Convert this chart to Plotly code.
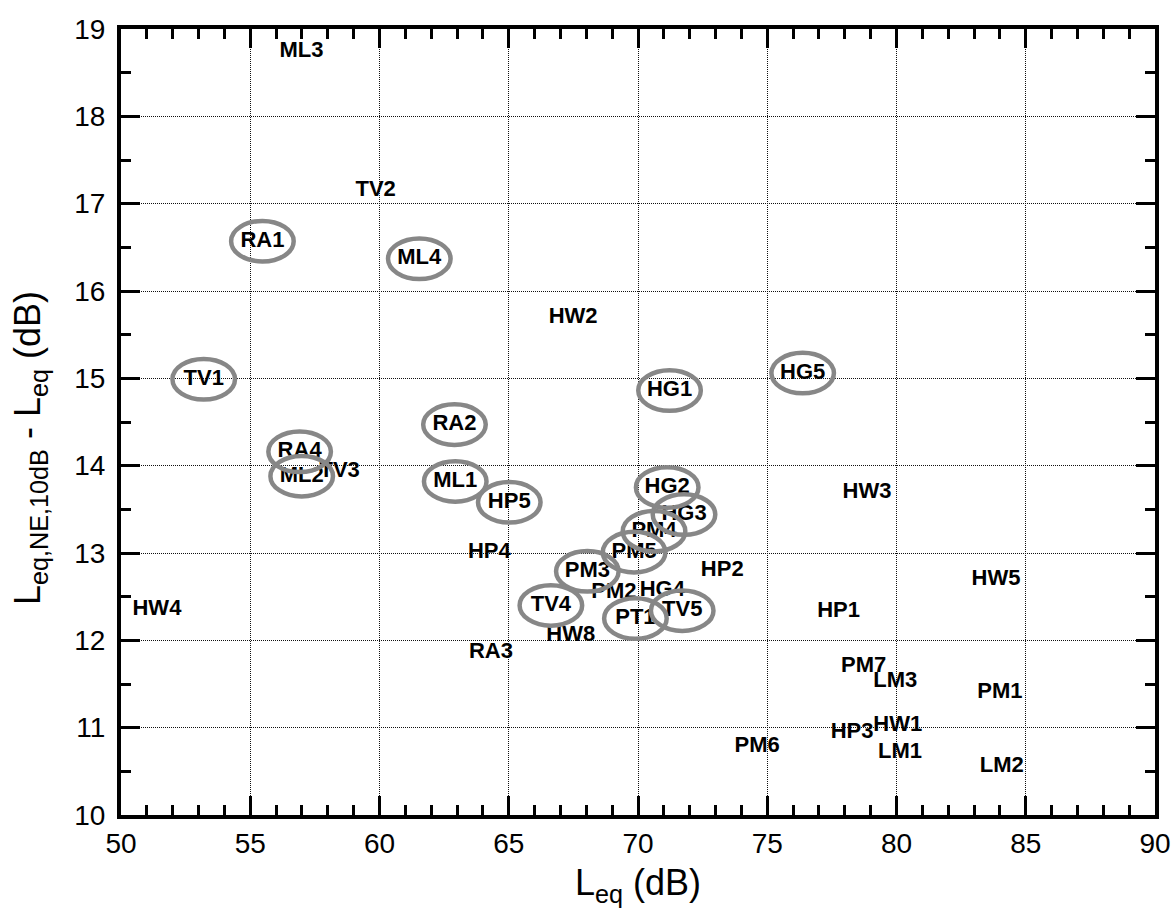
import plotly.graph_objects as go

labels = ["ML3", "TV2", "RA1", "ML4", "HW2", "TV1", "HG5", "RA2", "HG1",
          "RA4", "ML2", "TV3", "ML1", "HP5", "HG2", "HG3", "HW3", "PM4",
          "PM5", "HP4", "PM3", "HP2", "HW5", "PM2", "HG4", "TV4", "HW4",
          "TV5", "PT1", "HP1", "HW8", "RA3", "PM7", "LM3", "PM1", "HW1",
          "HP3", "PM6", "LM1", "LM2"]
leq = [56.98, 59.85, 55.47, 61.54, 67.49, 53.20, 76.37, 62.90, 71.22,
       56.91, 56.99, 58.46, 62.93, 65.02, 71.13, 71.78, 78.86, 70.62,
       69.85, 64.25, 68.04, 73.26, 83.85, 69.07, 70.94, 66.63, 51.39,
       71.71, 69.90, 77.76, 67.40, 64.31, 78.73, 79.95, 84.00, 80.05,
       78.28, 74.61, 80.14, 84.07]
diff = [18.74, 17.15, 16.57, 16.37, 15.70, 14.99, 15.06, 14.47, 14.86,
        14.16, 13.88, 13.93, 13.82, 13.58, 13.75, 13.44, 13.69, 13.25,
        13.01, 13.01, 12.79, 12.80, 12.70, 12.55, 12.57, 12.40, 12.35,
        12.34, 12.25, 12.33, 12.06, 11.86, 11.70, 11.53, 11.40, 11.02,
        10.94, 10.79, 10.72, 10.55]
circled = ["RA1", "ML4", "TV1", "HG5", "RA2", "HG1", "RA4", "ML2", "ML1",
           "HP5", "HG2", "HG3", "PM4", "PM5", "PM3", "TV4", "PT1", "TV5"]

x_ticks = [50, 55, 60, 65, 70, 75, 80, 85, 90]
y_ticks = [10, 11, 12, 13, 14, 15, 16, 17, 18, 19]

ELL_RX = 1.21   # half width of ring (x units)
ELL_RY = 0.232  # half height of ring (y units)

fig = go.Figure()
fig.add_trace(go.Scatter(
    x=leq, y=diff, text=labels, mode="text",
    textfont=dict(family="Arial", size=22, color="black", weight="bold"),
    textposition="middle center", hoverinfo="text", showlegend=False,
))

shapes = []
for name, xv, yv in zip(labels, leq, diff):
    if name in circled:
        shapes.append(dict(
            type="circle", xref="x", yref="y",
            x0=xv - ELL_RX, x1=xv + ELL_RX, y0=yv - ELL_RY, y1=yv + ELL_RY,
            line=dict(color="#878787", width=4.5), layer="above",
        ))

axis_common = dict(
    showline=True, linecolor="black", linewidth=4, mirror="ticks",
    ticks="inside", tickcolor="black", tickwidth=3, ticklen=19,
    showgrid=True, gridcolor="#111111", gridwidth=1, griddash="1px,1px",
    zeroline=False, automargin=False,
    tickfont=dict(family="Arial", size=28, color="black"),
)

fig.update_xaxes(
    range=[50, 90], tickvals=x_ticks,
    minor=dict(ticks="inside", dtick=1, ticklen=10, tickwidth=3, tickcolor="black", showgrid=False),
    ticklabelstandoff=0,
    **axis_common,
)
fig.update_yaxes(
    range=[10, 19], tickvals=y_ticks,
    minor=dict(ticks="inside", dtick=0.5, ticklen=10, tickwidth=3, tickcolor="black", showgrid=False),
    ticklabelstandoff=6,
    **axis_common,
)

fig.update_layout(
    width=1174, height=909,
    margin=dict(l=121, r=19, t=29, b=94),
    plot_bgcolor="white", paper_bgcolor="white",
    shapes=shapes,
    annotations=[
        dict(text="L<sub>eq</sub> (dB)", xref="paper", yref="paper",
             x=0.5, y=0, xanchor="center", yanchor="middle", yshift=-70,
             showarrow=False, font=dict(family="Arial", size=36, color="black")),
        dict(text="L<sub>eq,NE,10dB</sub> - L<sub>eq</sub> (dB)", xref="paper", yref="paper",
             x=0, y=0.467, xanchor="center", yanchor="middle", xshift=-91,
             textangle=-90, showarrow=False,
             font=dict(family="Arial", size=36, color="black")),
    ],
)

fig.write_html(
    "out.html",
    config={"displayModeBar": False},
    post_script="document.body.style.margin='0';document.body.style.overflow='hidden';",
)
